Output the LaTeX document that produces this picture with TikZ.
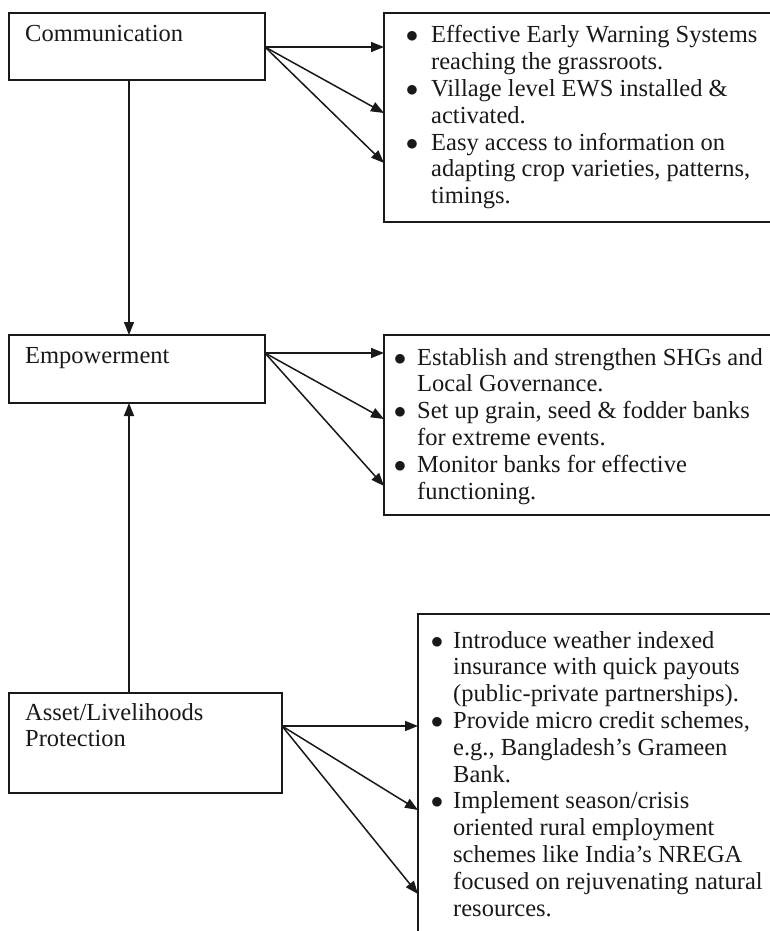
\documentclass[tikz,border=0pt]{standalone}
\usepackage{fontspec}
\setmainfont{Liberation Serif}
\usetikzlibrary{arrows.meta,calc}
\definecolor{ink}{RGB}{25,25,25}
\tikzset{
  box/.style={draw=ink, line width=1.5pt, rectangle, inner sep=0pt, outer sep=0pt, anchor=north west},
  txt/.style={font=\fontsize{24.5pt}{26.8pt}\selectfont, text=ink, inner sep=0pt, anchor=base west},
  conn/.style={draw=ink, line width=1.5pt, -{Triangle[length=13pt,width=10pt]}}
}
\newcommand{\bul}[1]{\makebox[#1][l]{\makebox[0pt]{$\bullet$}}}
\begin{document}
\begin{tikzpicture}[x=1pt,y=-1pt]
\useasboundingbox (0,0) rectangle (770,931);
% left boxes
\node[box, minimum width=256pt, minimum height=67pt] (C) at (9,13) {};
\node[box, minimum width=256pt, minimum height=68pt] (E) at (9,335) {};
\node[box, minimum width=273pt, minimum height=100pt] (A) at (9,693) {};
\node[txt] (tC) at (25,42) {Communication};
\node[txt] (tE) at (25,363) {Empowerment};
\node[txt] (tA) at (25,720) {\begin{tabular}[t]{@{}l@{}}Asset/Livelihoods\\Protection\end{tabular}};
% right boxes
\node[box, minimum width=420pt, minimum height=209pt] (R1) at (384,13) {};
\node[box, minimum width=420pt, minimum height=180pt] (R2) at (384,335) {};
\node[box, minimum width=400pt, minimum height=340pt] (R3) at (418,614) {};
\node[txt] (t1) at (412,43) {\begin{tabular}[t]{@{}l@{}l@{}}
\bul{19pt} & Effective Early Warning Systems\\
 & reaching the grassroots.\\
\bul{19pt} & Village level EWS installed \&\\
 & activated.\\
\bul{19pt} & Easy access to information on\\
 & adapting crop varieties, patterns,\\
 & timings.
\end{tabular}};
\node[txt] (t2) at (400,365) {\begin{tabular}[t]{@{}l@{}l@{}}
\bul{17pt} & Establish and strengthen SHGs and\\
 & Local Governance.\\
\bul{17pt} & Set up grain, seed \& fodder banks\\
 & for extreme events.\\
\bul{17pt} & Monitor banks for effective\\
 & functioning.
\end{tabular}};
\node[txt] (t3) at (437,648) {\begin{tabular}[t]{@{}l@{}l@{}}
\bul{16pt} & Introduce weather indexed\\
 & insurance with quick payouts\\
 & (public-private partnerships).\\
\bul{16pt} & Provide micro credit schemes,\\
 & e.g., Bangladesh’s Grameen\\
 & Bank.\\
\bul{16pt} & Implement season/crisis\\
 & oriented rural employment\\
 & schemes like India’s NREGA\\
 & focused on rejuvenating natural\\
 & resources.
\end{tabular}};
% connector endpoints
\coordinate (cs) at ($(C.north east)+(0,34)$);
\coordinate (es) at ($(E.north east)+(0,18)$);
\coordinate (as) at ($(A.north east)+(0,33)$);
\coordinate (r1a) at ($(R1.north west)+(0,34)$);
\coordinate (r1b) at ($(R1.north west)+(0,100)$);
\coordinate (r1c) at ($(R1.north west)+(0,150)$);
\coordinate (r2a) at ($(R2.north west)+(0,18)$);
\coordinate (r2b) at ($(R2.north west)+(0,84)$);
\coordinate (r2c) at ($(R2.north west)+(0,151)$);
\coordinate (r3a) at ($(R3.north west)+(0,112)$);
\coordinate (r3b) at ($(R3.north west)+(0,196)$);
\coordinate (r3c) at ($(R3.north west)+(0,280)$);
\draw[conn] (cs) -- (r1a);
\draw[conn] (cs) -- (r1b);
\draw[conn] (cs) -- (r1c);
\draw[conn] (es) -- (r2a);
\draw[conn] (es) -- (r2b);
\draw[conn] (es) -- (r2c);
\draw[conn] (as) -- (r3a);
\draw[conn] (as) -- (r3b);
\draw[conn] (as) -- (r3c);
% vertical connectors
\draw[conn] ($(C.south west)+(120,0)$) -- ($(E.north west)+(120,0)$);
\draw[conn] ($(A.north west)+(120,0)$) -- ($(E.south west)+(120,0)$);
\end{tikzpicture}
\end{document}
